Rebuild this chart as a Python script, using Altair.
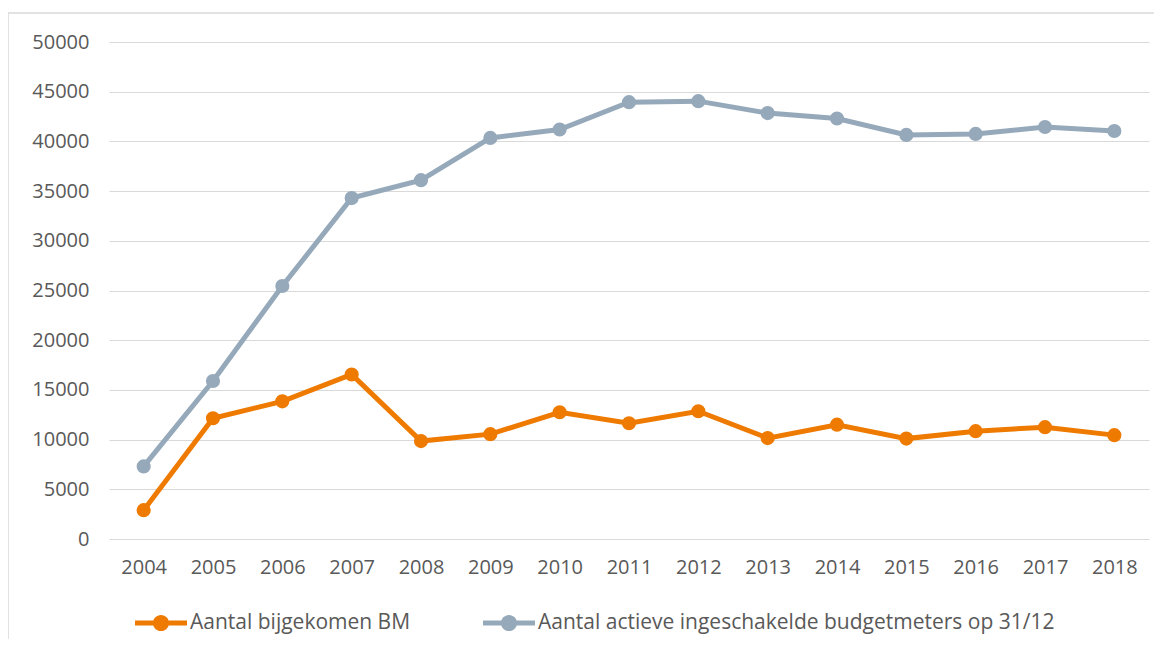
import altair as alt
import pandas as pd

years = ["2004", "2005", "2006", "2007", "2008", "2009", "2010", "2011",
         "2012", "2013", "2014", "2015", "2016", "2017", "2018"]
bijgekomen = [2900, 12150, 13850, 16550, 9850, 10550, 12750, 11650,
              12850, 10150, 11500, 10100, 10850, 11250, 10450]
actief = [7300, 15900, 25450, 34300, 36100, 40350, 41200, 43950,
          44050, 42850, 42300, 40650, 40750, 41450, 41050]
series = ["Aantal bijgekomen BM", "Aantal actieve ingeschakelde budgetmeters op 31/12"]
colors = ["#EE7A00", "#95A9BA"]

rows = []
for y, a, b in zip(years, bijgekomen, actief):
    rows.append({"jaar": y, "reeks": series[0], "waarde": a})
    rows.append({"jaar": y, "reeks": series[1], "waarde": b})
df = pd.DataFrame(rows)

W, H = 1040, 497
FONT = "Open Sans"
TXT = "#595959"

x = alt.X("jaar:O", sort=years, scale=alt.Scale(type="point", padding=0.5),
          axis=alt.Axis(title=None, labelAngle=0, ticks=False, domain=False,
                        labelPadding=18, labelFontSize=20, labelColor=TXT,
                        labelFont=FONT, grid=False))
y = alt.Y("waarde:Q", scale=alt.Scale(domain=[0, 50000], nice=False),
          axis=alt.Axis(title=None, values=list(range(0, 50001, 5000)), format="d",
                        ticks=False, domain=False, labelPadding=20,
                        labelFontSize=20, labelColor=TXT, labelFont=FONT,
                        gridColor="#D9D9D9", gridWidth=1.2))

scale = alt.Scale(domain=series, range=colors)

legend_path = ("M-1,-0.1 L1,-0.1 L1,0.1 L-1,0.1 Z "
               "M-0.31,0 A0.31,0.31 0 1,1 0.31,0 A0.31,0.31 0 1,1 -0.31,0 Z")

leg = alt.Legend(title=None, orient="none", direction="horizontal",
                 legendX=26, legendY=555,
                 symbolType=legend_path, symbolSize=2704,
                 symbolStrokeWidth=0, labelFontSize=21,
                 labelFont=FONT, labelColor=TXT,
                 labelOffset=3, columnPadding=72, labelLimit=800)

border = alt.Chart(pd.DataFrame({"k": [0]})).mark_rect(
    fill=None, stroke="#D9D9D9", strokeWidth=1.5, clip=False
).encode(x=alt.value(-101), x2=alt.value(W + 40), y=alt.value(-29), y2=alt.value(H + 200))

lines = alt.Chart(df).mark_line(strokeWidth=5, clip=False).encode(
    x=x, y=y,
    color=alt.Color("reeks:N", scale=scale, sort=series, legend=leg),
)

points = alt.Chart(df).mark_circle(size=200, opacity=1, clip=False).encode(
    x=x, y=y,
    color=alt.Color("reeks:N", scale=scale, sort=series, legend=leg),
)

chart = alt.layer(border, lines, points).properties(
    width=W, height=H,
    autosize=alt.AutoSizeParams(type="none"),
    padding={"left": 101, "top": 34, "right": 5, "bottom": 100},
    background="white",
).configure_view(stroke=None)

chart.save("out.html", embed_options={"renderer": "svg", "actions": False})
